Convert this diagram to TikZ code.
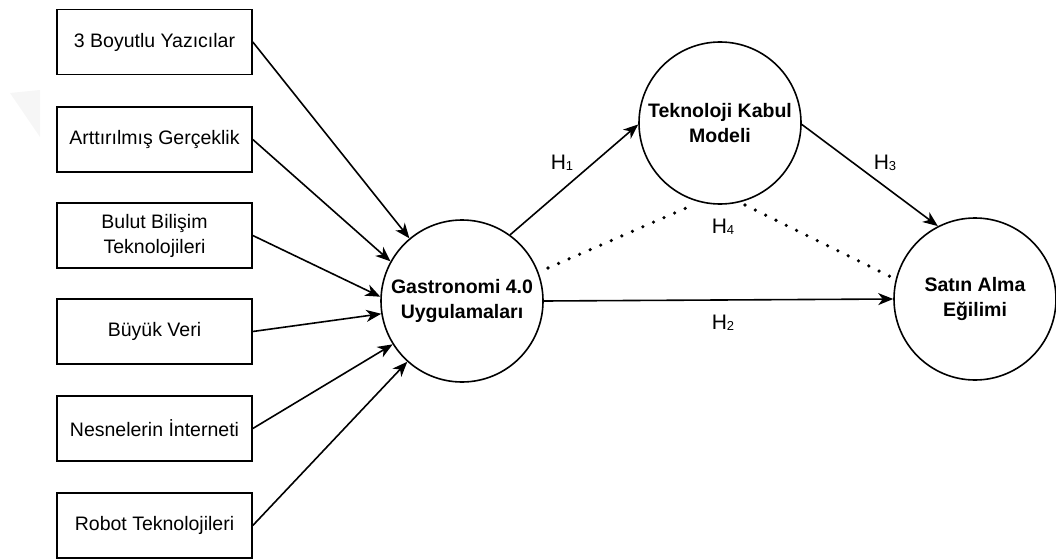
\documentclass[tikz,border=0pt]{standalone}
\usepackage{fontspec}
\setmainfont{Liberation Sans}
\usetikzlibrary{arrows.meta}
\tikzset{
  itembox/.style={draw, line width=1.6pt, minimum width=195pt, minimum height=65pt, align=center, inner sep=2pt, font=\fontsize{19.5}{25}\selectfont},
  construct/.style={draw, circle, line width=1.6pt, minimum size=162pt, inner sep=0pt, align=center, font=\fontsize{19.5}{25}\selectfont\bfseries},
  link/.style={line width=1.6pt, -{Stealth[length=15pt, width=12pt, inset=4.5pt]}},
  dotlink/.style={line width=3.6pt, line cap=round, dash pattern=on 0pt off 11.5pt},
  hlabel/.style={font=\fontsize{21}{22}\selectfont, inner sep=0pt}
}
\newcommand{\hsub}[1]{H\raisebox{-1.5pt}{\fontsize{13}{13}\selectfont #1}}
\begin{document}
\begin{tikzpicture}[x=1pt, y=-1pt]
\useasboundingbox (0,0) rectangle (1056,559);
\fill[gray!7] (10,93) -- (40,90) -- (40,137) -- cycle;

\node[itembox] (b1) at (154.5,42) {3 Boyutlu Yazıcılar};
\node[itembox] (b2) at (154.5,139.5) {Arttırılmış Gerçeklik};
\node[itembox] (b3) at (154.5,235.5) {Bulut Bilişim\\Teknolojileri};
\node[itembox] (b4) at (154.5,331.5) {Büyük Veri};
\node[itembox] (b5) at (154.5,428.5) {Nesnelerin İnterneti};
\node[itembox] (b6) at (154.5,525.5) {Robot Teknolojileri};

\node[construct] (g) at (462,301) {Gastronomi 4.0\\Uygulamaları};
\node[construct] (t) at (720,123) {Teknoloji Kabul\\Modeli};
\node[construct] (s) at (975,299) {Satın Alma\\Eğilimi};

\draw[link] (b1.east) -- (g.130);
\draw[link] (b2.east) -- (g.151);
\draw[link] (b3.east) -- (g.177);
\draw[link] (b4.east) -- (g.189);
\draw[link] (b5.east) -- (g.212);
\draw[link] (b6.east) -- (g.228);

\draw[link] (g.54) -- (t.181);
\draw[link] (t.-1) -- (s.117);
\draw[link] (g.east) -- (s.west);

\coordinate (d1) at (548,268);
\coordinate (d2) at (693,205);
\coordinate (d3) at (745,205);
\draw[dotlink] (d1) -- (d2);
\draw[dotlink] (d3) -- (s.166);

\node[hlabel] (h1) at (562,163) {\hsub{1}};
\node[hlabel] (h3) at (885,163) {\hsub{3}};
\node[hlabel] (h4) at (723,227) {\hsub{4}};
\node[hlabel] (h2) at (723,323) {\hsub{2}};
\end{tikzpicture}
\end{document}
